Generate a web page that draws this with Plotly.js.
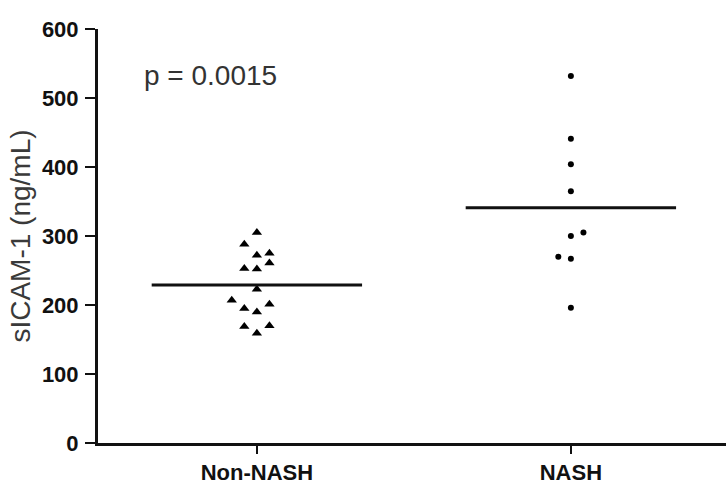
<!DOCTYPE html>
<html>
<head>
<meta charset="utf-8">
<script src="https://cdn.plot.ly/plotly-3.0.1.min.js"></script>
<style>html,body{margin:0;padding:0;background:#fff;}#chart{width:726px;height:487px;}</style>
</head>
<body>
<div id="chart"></div>
<script>
const categories = ["Non-NASH", "NASH"];
const nonNashValues  = [305, 288, 272, 275, 261, 253, 252, 223, 207, 195, 201, 190, 169, 170, 159];
const nonNashJitter  = [0, -0.04, 0, 0.04, 0.04, -0.04, 0, 0, -0.08, -0.04, 0.04, 0, -0.04, 0.04, 0];
const nashValues     = [532, 441, 404, 365, 305, 300, 270, 267, 196];
const nashJitter     = [0, 0, 0, 0, 0.04, 0, -0.04, 0, 0];
const groupMeans     = [229, 341];
const yTicks = [0, 100, 200, 300, 400, 500, 600];
const annotationText = "p = 0.0015";

const halfW = 0.335;
const traces = [
  {
    x: nonNashValues.map((v, i) => 0 + nonNashJitter[i]),
    y: nonNashValues,
    mode: "markers", type: "scatter",
    marker: {symbol: "triangle-up", size: 9, color: "#000"},
    hoverinfo: "y"
  },
  {
    x: nashValues.map((v, i) => 1 + nashJitter[i]),
    y: nashValues,
    mode: "markers", type: "scatter",
    marker: {symbol: "circle", size: 6, color: "#000"},
    hoverinfo: "y"
  }
];
groupMeans.forEach((m, i) => {
  traces.push({
    x: [i - halfW, i + halfW], y: [m, m],
    mode: "lines", type: "scatter",
    line: {color: "#111", width: 3},
    hoverinfo: "skip"
  });
});

const layout = {
  width: 726, height: 487,
  margin: {l: 98, r: 0, t: 29, b: 44},
  paper_bgcolor: "#fff", plot_bgcolor: "#fff",
  showlegend: false,
  font: {family: "Liberation Sans, Arial, sans-serif", color: "#111"},
  xaxis: {
    range: [-0.506, 1.494],
    tickvals: [0, 1], ticktext: categories,
    showgrid: false, zeroline: false,
    showline: true, linecolor: "#111", linewidth: 3,
    ticks: "outside", ticklen: 8, tickwidth: 2.5, tickcolor: "#111",
    ticklabelstandoff: 0,
    tickfont: {family: "Liberation Sans, Arial, sans-serif", size: 22, color: "#111", weight: "bold"}
  },
  yaxis: {
    range: [0, 600],
    tickvals: yTicks,
    showgrid: false, zeroline: false,
    showline: true, linecolor: "#111", linewidth: 3,
    ticks: "outside", ticklen: 10, tickwidth: 2.5, tickcolor: "#111",
    ticklabelstandoff: 2,
    tickfont: {family: "Liberation Sans, Arial, sans-serif", size: 22, color: "#111", weight: "bold"},
    title: {text: "sICAM-1 (ng/mL)", standoff: 4, font: {family: "Liberation Sans, Arial, sans-serif", size: 28, color: "#3a3a3a"}}
  },
  annotations: [{
    x: -0.147, y: 533, xref: "x", yref: "y",
    text: annotationText, showarrow: false,
    font: {family: "Liberation Sans, Arial, sans-serif", size: 28, color: "#333"}
  }]
};

Plotly.newPlot("chart", traces, layout, {displayModeBar: false, staticPlot: true});
</script>
</body>
</html>
